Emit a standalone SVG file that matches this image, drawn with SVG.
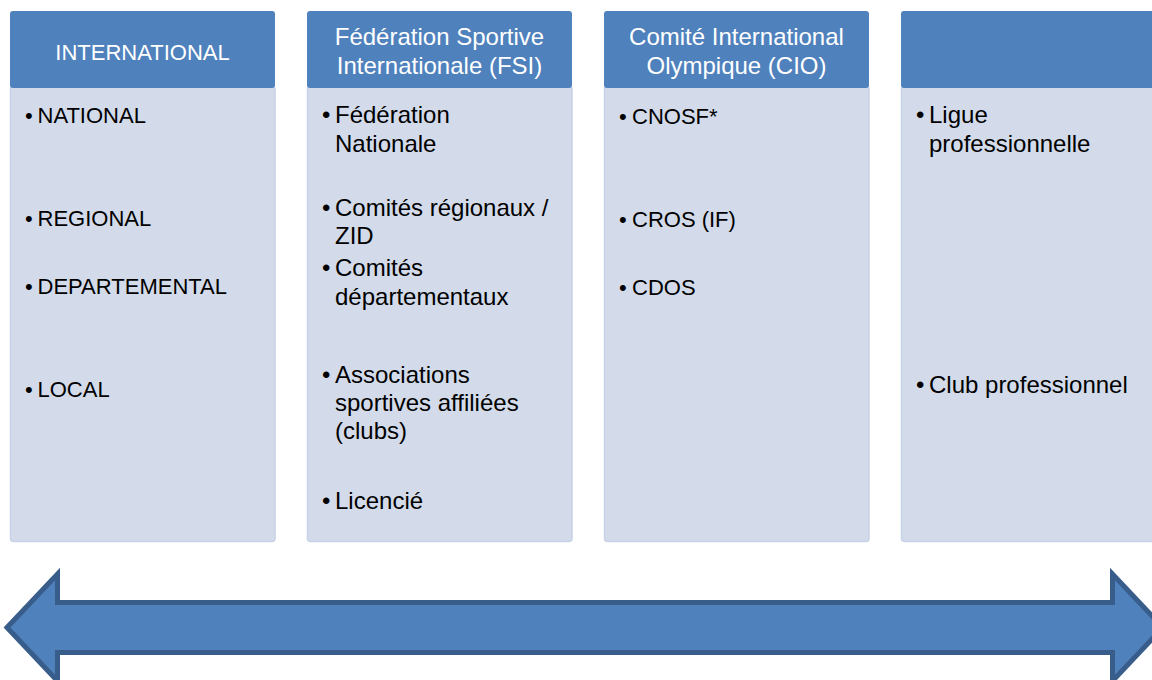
<svg xmlns="http://www.w3.org/2000/svg" width="1152" height="680" viewBox="0 0 1152 680">
<style>
.hd{fill:#4F81BD;}
.bd{fill:#D3DBEA;stroke:#C8D2E6;stroke-width:1.5;}
.ht{font-family:"Liberation Sans",Arial,sans-serif;font-size:24px;fill:#FFFFFF;text-anchor:middle;}
.hc{font-family:"Liberation Sans",Arial,sans-serif;font-size:22px;fill:#FFFFFF;text-anchor:middle;}
.t{font-family:"Liberation Sans",Arial,sans-serif;font-size:24px;fill:#000000;}
.c{font-family:"Liberation Sans",Arial,sans-serif;font-size:22px;fill:#000000;}
.arrow{fill:#4F81BD;stroke:#385D8A;stroke-width:5;stroke-linejoin:miter;}
</style>
<rect width="1152" height="680" fill="#FFFFFF"/>

<g id="col-international">
<rect class="bd" x="10.5" y="86" width="264.5" height="455.5" rx="3"/>
<rect class="hd" x="10" y="11" width="265" height="77" rx="3"/>
<text class="hc" x="142.5" y="60">INTERNATIONAL</text>
<text class="c" y="123"><tspan x="25">•</tspan><tspan x="37.5">NATIONAL</tspan></text>
<text class="c" y="226"><tspan x="25">•</tspan><tspan x="37.5">REGIONAL</tspan></text>
<text class="c" y="294"><tspan x="25">•</tspan><tspan x="37.5">DEPARTEMENTAL</tspan></text>
<text class="c" y="397"><tspan x="25">•</tspan><tspan x="37.5">LOCAL</tspan></text>
</g>

<g id="col-fsi">
<rect class="bd" x="307.5" y="86" width="264.5" height="455.5" rx="3"/>
<rect class="hd" x="307" y="11" width="265" height="77" rx="3"/>
<text class="ht" x="439.5" y="45">Fédération Sportive</text>
<text class="ht" x="439.5" y="74">Internationale (FSI)</text>
<text class="t" y="123"><tspan x="322">•</tspan><tspan x="335">Fédération</tspan></text>
<text class="t" x="335" y="152">Nationale</text>
<text class="t" y="216"><tspan x="322">•</tspan><tspan x="335">Comités régionaux /</tspan></text>
<text class="t" x="335" y="244">ZID</text>
<text class="t" y="276"><tspan x="322">•</tspan><tspan x="335">Comités</tspan></text>
<text class="t" x="335" y="305">départementaux</text>
<text class="t" y="383"><tspan x="322">•</tspan><tspan x="335">Associations</tspan></text>
<text class="t" x="335" y="411">sportives affiliées</text>
<text class="t" x="335" y="439">(clubs)</text>
<text class="t" y="509"><tspan x="322">•</tspan><tspan x="335">Licencié</tspan></text>
</g>

<g id="col-cio">
<rect class="bd" x="604.5" y="86" width="264.5" height="455.5" rx="3"/>
<rect class="hd" x="604" y="11" width="265" height="77" rx="3"/>
<text class="ht" x="736.5" y="45">Comité International</text>
<text class="ht" x="736.5" y="74">Olympique (CIO)</text>
<text class="c" y="124"><tspan x="619">•</tspan><tspan x="632">CNOSF*</tspan></text>
<text class="c" y="227"><tspan x="619">•</tspan><tspan x="632">CROS (IF)</tspan></text>
<text class="c" y="295"><tspan x="619">•</tspan><tspan x="632">CDOS</tspan></text>
</g>

<g id="col-pro">
<rect class="bd" x="901.5" y="86" width="264.5" height="455.5" rx="3"/>
<rect class="hd" x="901" y="11" width="265" height="77" rx="3"/>
<text class="t" y="123"><tspan x="916">•</tspan><tspan x="929">Ligue</tspan></text>
<text class="t" x="929" y="152">professionnelle</text>
<text class="t" y="393"><tspan x="916">•</tspan><tspan x="929">Club professionnel</tspan></text>
</g>

<g id="connectors">
<path class="arrow" d="M7,627.5 L57.5,574 L57.5,602.5 L1112.5,602.5 L1112.5,574 L1163,627.5 L1112.5,681 L1112.5,652.5 L57.5,652.5 L57.5,681 Z"/>
</g>
</svg>
